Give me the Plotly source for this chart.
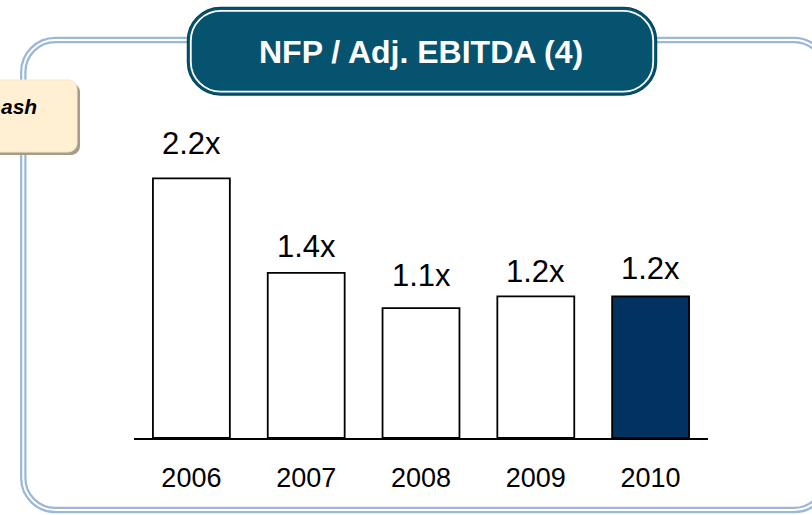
import plotly.graph_objects as go

# ---- data ----
years = ["2006", "2007", "2008", "2009", "2010"]
nfp_ebitda = [2.2, 1.4, 1.1, 1.2, 1.2]
value_labels = ["2.2x", "1.4x", "1.1x", "1.2x", "1.2x"]

# ---- styling ----
W, H = 812, 515
FONT = "Arial, Liberation Sans, sans-serif"
bar_fill = ["white", "white", "white", "white", "#02325F"]
label_lift = [35, 26, 33, 25, 28]  # px between bar top and label centre
frame_blue = "#9BB8D8"
title_fill = "#06536F"
title_edge = "#044760"

# plot-area placement in pixels
PX_LEFT, PX_RIGHT = 134, 708
PX_ZERO, PX_TOP = 438, 120
PX_PER_UNIT = 118.0


def px(x, y):
    """pixel position -> paper coordinates (margins are zero)"""
    return x / W, 1 - y / H


def rounded_rect(x0, y0, x1, y1, r):
    k = 0.5523 * r

    def P(x, y):
        a, b = px(x, y)
        return f"{a:.5f},{b:.5f}"

    pts = [
        f"M{P(x0 + r, y0)}",
        f"L{P(x1 - r, y0)}",
        f"C{P(x1 - r + k, y0)} {P(x1, y0 + r - k)} {P(x1, y0 + r)}",
        f"L{P(x1, y1 - r)}",
        f"C{P(x1, y1 - r + k)} {P(x1 - r + k, y1)} {P(x1 - r, y1)}",
        f"L{P(x0 + r, y1)}",
        f"C{P(x0 + r - k, y1)} {P(x0, y1 - r + k)} {P(x0, y1 - r)}",
        f"L{P(x0, y0 + r)}",
        f"C{P(x0, y0 + r - k)} {P(x0 + r - k, y0)} {P(x0 + r, y0)}",
    ]
    return " ".join(pts) + " Z"


fig = go.Figure()

fig.add_trace(go.Bar(
    x=years,
    y=nfp_ebitda,
    width=0.67,
    marker=dict(color=bar_fill, line=dict(color="black", width=1.8)),
    hoverinfo="skip",
))

shapes = []
# outer double-line frame
frame = rounded_rect(23.3, 40, 826, 510, 32)
shapes.append(dict(type="path", path=frame, xref="paper", yref="paper",
                   line=dict(color=frame_blue, width=6.5), layer="below"))
shapes.append(dict(type="path", path=frame, xref="paper", yref="paper",
                   line=dict(color="white", width=2), layer="below"))

# side tag with drop shadow
shapes.append(dict(type="path", path=rounded_rect(-17, 83, 80, 155, 9),
                   xref="paper", yref="paper", fillcolor="#A69C87",
                   line=dict(width=0), layer="below"))
shapes.append(dict(type="path", path=rounded_rect(-20, 80, 77, 152, 9),
                   xref="paper", yref="paper", fillcolor="#FFF0D3",
                   line=dict(color="#F6E6C6", width=1), layer="below"))

# title badge
shapes.append(dict(type="path", path=rounded_rect(187.5, 7.5, 656.5, 95, 33),
                   xref="paper", yref="paper", fillcolor=title_fill,
                   line=dict(color=title_edge, width=1.5), layer="below"))
shapes.append(dict(type="path", path=rounded_rect(190.8, 10.8, 653.2, 91.7, 30),
                   xref="paper", yref="paper",
                   line=dict(color="white", width=1.8), layer="below"))

annotations = []
tx, ty = px(421.5, 52)
annotations.append(dict(text="<b>NFP / Adj. EBITDA (4)</b>", x=tx, y=ty,
                        xref="paper", yref="paper",
                        showarrow=False, xanchor="center", yanchor="middle",
                        font=dict(family=FONT, size=32, color="white")))
cx, cy = px(0, 106)
annotations.append(dict(text="<b><i>ash</i></b>", x=cx, y=cy,
                        xref="paper", yref="paper", borderpad=0,
                        showarrow=False, xanchor="left", yanchor="middle",
                        font=dict(family=FONT, size=21, color="black")))

for i, (v, lab, lift) in enumerate(zip(nfp_ebitda, value_labels, label_lift)):
    annotations.append(dict(text=lab, x=i, y=v, xref="x", yref="y",
                            showarrow=False, xanchor="center", yanchor="middle",
                            yshift=lift,
                            font=dict(family=FONT, size=31, color="black")))

fig.update_layout(
    width=W, height=H,
    margin=dict(l=0, r=0, t=0, b=0),
    paper_bgcolor="white", plot_bgcolor="rgba(0,0,0,0)",
    showlegend=False,
    shapes=shapes,
    annotations=annotations,
    font=dict(family=FONT, color="black"),
    xaxis=dict(
        domain=[PX_LEFT / W, PX_RIGHT / W],
        range=[-0.5, 4.5],
        type="category",
        categoryorder="array", categoryarray=years,
        showline=True, linecolor="black", linewidth=1.8,
        showgrid=False, zeroline=False, ticks="",
        tickfont=dict(family=FONT, size=27, color="black"),
        ticklabelstandoff=15,
        fixedrange=True,
    ),
    yaxis=dict(
        domain=[(H - PX_ZERO) / H, (H - PX_TOP) / H],
        range=[0, (PX_ZERO - PX_TOP) / PX_PER_UNIT],
        visible=False, showgrid=False, zeroline=False,
        fixedrange=True,
    ),
)

fig.write_html("out.html")
